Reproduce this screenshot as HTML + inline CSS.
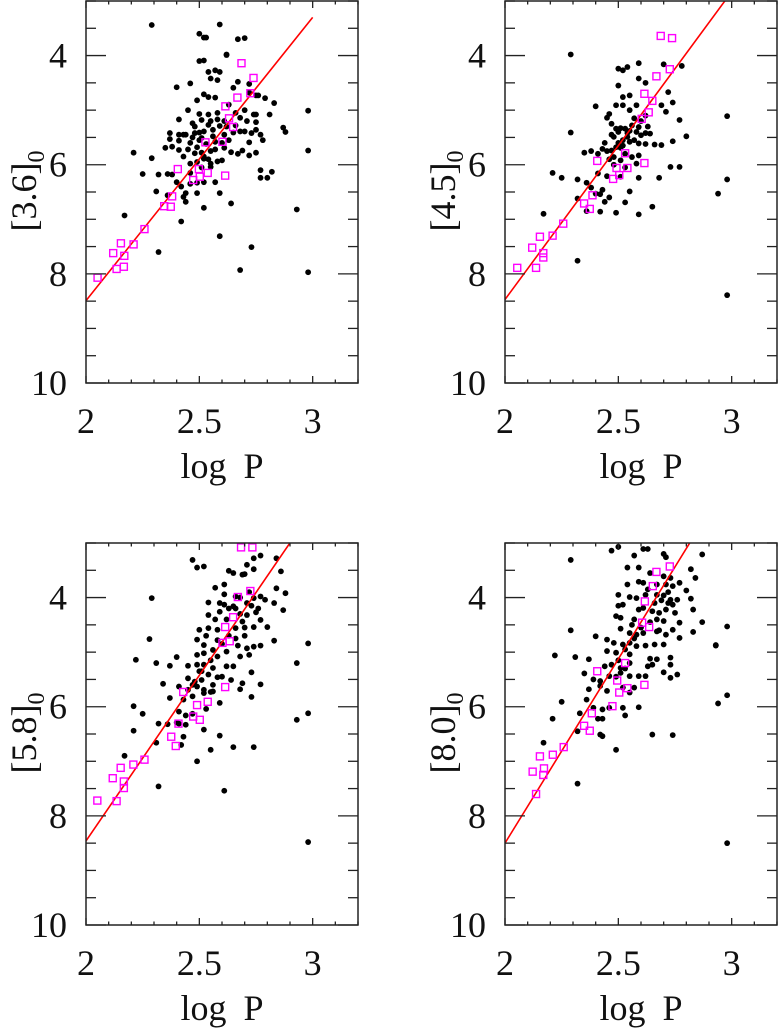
<!DOCTYPE html>
<html><head><meta charset="utf-8">
<style>
html,body{margin:0;padding:0;background:#fff;}
svg{display:block;}
text{font-family:"Liberation Serif","DejaVu Serif",serif;fill:#111;}
</style></head>
<body>
<svg id="fig" width="779" height="1035" viewBox="0 0 779 1035" xmlns="http://www.w3.org/2000/svg"></svg>
<script>
// ---- data ----
const dots36 = [[2.29,3.44],[2.59,3.43],[2.50,3.60],[2.52,3.67],[2.53,3.67],[2.67,3.70],[2.70,3.68],[2.50,4.10],[2.52,4.09],[2.62,3.99],[2.62,3.98],[2.54,4.30],[2.57,4.27],[2.59,4.30],[2.58,4.45],[2.55,4.42],[2.40,4.58],[2.46,4.51],[2.67,4.48],[2.65,4.59],[2.72,4.52],[2.72,4.68],[2.52,4.71],[2.54,4.76],[2.57,4.77],[2.49,4.82],[2.75,4.73],[2.76,4.73],[2.79,4.78],[2.83,4.87],[2.45,5.0],[2.50,5.07],[2.54,5.08],[2.58,5.17],[2.61,5.20],[2.66,5.05],[2.68,5.14],[2.41,5.17],[2.47,5.24],[2.51,5.18],[2.54,5.27],[2.74,5.08],[2.75,5.08],[2.81,5.08],[2.71,5.2],[2.75,5.22],[2.75,5.36],[2.37,5.42],[2.41,5.45],[2.43,5.45],[2.44,5.45],[2.48,5.42],[2.50,5.41],[2.52,5.39],[2.56,5.36],[2.59,5.29],[2.37,5.53],[2.41,5.56],[2.46,5.6],[2.51,5.51],[2.56,5.48],[2.61,5.45],[2.65,5.41],[2.68,5.39],[2.70,5.39],[2.73,5.42],[2.77,5.45],[2.78,5.55],[2.72,5.59],[2.35,5.69],[2.38,5.67],[2.41,5.73],[2.45,5.72],[2.48,5.79],[2.51,5.78],[2.55,5.75],[2.57,5.72],[2.61,5.69],[2.64,5.77],[2.67,5.8],[2.69,5.74],[2.72,5.83],[2.75,5.78],[2.21,5.78],[2.29,5.88],[2.46,5.98],[2.49,5.95],[2.52,5.89],[2.55,5.98],[2.58,5.94],[2.60,5.92],[2.55,6.04],[2.25,6.17],[2.32,6.18],[2.36,6.17],[2.38,6.18],[2.40,6.32],[2.42,6.4],[2.46,6.35],[2.49,6.33],[2.52,6.32],[2.57,6.32],[2.77,6.10],[2.77,6.24],[2.80,6.24],[2.82,6.13],[2.31,6.49],[2.36,6.56],[2.43,6.59],[2.44,6.52],[2.49,6.52],[2.59,6.52],[2.44,6.68],[2.52,6.79],[2.64,6.71],[2.17,6.93],[2.42,7.04],[2.59,7.31],[2.73,7.51],[2.32,7.6],[2.68,7.93],[2.98,7.97],[2.93,6.82],[2.98,5.74],[2.98,5.01],[2.87,5.32],[2.88,5.4],[2.50,5.55],[2.53,5.62],[2.49,5.68],[2.52,5.85],[2.54,5.90],[2.57,5.58],[2.60,5.60],[2.63,5.55],[2.47,5.50],[2.43,5.85],[2.46,6.15],[2.51,6.05],[2.58,5.05],[2.62,5.30],[2.55,5.20],[2.48,5.30],[2.63,4.90],[2.70,5.00],[2.66,5.28]];
const sq36 = [[2.051,8.07],[2.120,7.62],[2.135,7.91],[2.154,7.44],[2.167,7.87],[2.169,7.67],[2.210,7.46],[2.258,7.18],[2.345,6.76],[2.374,6.77],[2.380,6.58],[2.405,6.08],[2.473,6.28],[2.498,6.08],[2.502,6.22],[2.537,6.15],[2.527,5.59],[2.602,5.58],[2.614,6.20],[2.615,4.93],[2.631,5.15],[2.649,5.31],[2.668,4.77],[2.686,4.14],[2.725,4.69],[2.739,4.41]];
const dots45 = [[2.29,3.98],[2.50,4.24],[2.52,4.27],[2.54,4.21],[2.59,4.14],[2.70,4.16],[2.78,4.19],[2.59,4.42],[2.62,4.5],[2.72,4.67],[2.50,4.55],[2.52,4.76],[2.55,4.73],[2.58,4.91],[2.55,5.0],[2.40,4.93],[2.49,4.91],[2.52,4.91],[2.46,5.07],[2.45,5.14],[2.69,4.91],[2.74,4.86],[2.71,5.03],[2.77,5.18],[2.59,5.31],[2.49,5.34],[2.51,5.33],[2.53,5.34],[2.56,5.28],[2.58,5.40],[2.60,5.46],[2.62,5.42],[2.64,5.43],[2.48,5.49],[2.54,5.49],[2.57,5.55],[2.59,5.61],[2.62,5.62],[2.66,5.63],[2.69,5.64],[2.74,5.57],[2.80,5.48],[2.29,5.41],[2.35,5.78],[2.38,5.75],[2.41,5.8],[2.43,5.71],[2.45,5.75],[2.47,5.74],[2.49,5.68],[2.51,5.69],[2.48,5.86],[2.51,5.92],[2.56,5.86],[2.58,5.98],[2.59,5.83],[2.41,6.16],[2.45,6.21],[2.51,6.22],[2.59,6.24],[2.68,6.24],[2.73,6.04],[2.77,6.04],[2.21,6.15],[2.25,6.24],[2.32,6.27],[2.36,6.33],[2.38,6.42],[2.43,6.46],[2.40,6.53],[2.42,6.54],[2.46,6.6],[2.55,6.49],[2.44,6.68],[2.32,6.62],[2.36,6.85],[2.42,6.86],[2.49,6.88],[2.53,6.69],[2.59,6.91],[2.65,6.77],[2.17,6.9],[2.32,7.76],[2.98,5.11],[2.98,6.27],[2.94,6.53],[2.98,8.39],[2.47,5.45],[2.52,5.55],[2.50,5.60],[2.55,5.58],[2.53,5.80],[2.44,5.60],[2.57,5.15],[2.62,5.10],[2.50,5.40],[2.54,5.42],[2.52,5.65],[2.46,5.90],[2.48,6.00],[2.53,6.05],[2.55,5.38],[2.60,5.20],[2.63,5.30],[2.47,5.25]];
const sq45 = [[2.054,7.89],[2.137,7.89],[2.120,7.52],[2.154,7.32],[2.169,7.62],[2.169,7.70],[2.210,7.30],[2.257,7.08],[2.349,6.71],[2.386,6.56],[2.374,6.81],[2.407,5.93],[2.477,6.26],[2.492,6.06],[2.504,6.19],[2.540,6.06],[2.530,5.79],[2.615,5.97],[2.603,5.16],[2.634,5.04],[2.650,4.83],[2.615,4.70],[2.668,4.38],[2.727,4.25],[2.687,3.64],[2.737,3.68]];
const dots58 = [[2.47,3.31],[2.49,3.45],[2.52,3.43],[2.77,3.23],[2.74,3.28],[2.84,3.28],[2.71,3.40],[2.63,3.51],[2.65,3.55],[2.69,3.58],[2.70,3.57],[2.74,3.48],[2.86,3.52],[2.88,3.92],[2.87,4.23],[2.57,3.82],[2.61,3.76],[2.61,3.94],[2.66,3.98],[2.54,4.09],[2.59,4.1],[2.61,4.13],[2.65,4.16],[2.71,4.10],[2.74,4.01],[2.77,3.98],[2.79,4.04],[2.83,4.1],[2.84,3.83],[2.54,4.32],[2.59,4.26],[2.66,4.20],[2.71,4.32],[2.75,4.27],[2.77,4.41],[2.50,4.59],[2.54,4.56],[2.58,4.59],[2.66,4.56],[2.69,4.44],[2.74,4.54],[2.80,4.54],[2.83,4.79],[2.49,4.77],[2.52,4.87],[2.56,4.96],[2.62,4.99],[2.67,4.88],[2.71,4.93],[2.74,4.90],[2.77,4.88],[2.49,5.05],[2.52,5.02],[2.58,5.08],[2.62,5.26],[2.65,5.26],[2.68,5.08],[2.72,5.05],[2.22,5.14],[2.31,5.2],[2.37,5.25],[2.40,5.09],[2.45,5.25],[2.49,5.23],[2.52,5.23],[2.56,5.29],[2.45,5.48],[2.48,5.54],[2.51,5.51],[2.54,5.41],[2.58,5.46],[2.60,5.45],[2.64,5.51],[2.69,5.57],[2.73,5.37],[2.77,5.59],[2.34,5.58],[2.41,5.63],[2.45,5.69],[2.49,5.63],[2.52,5.69],[2.56,5.72],[2.68,5.68],[2.73,5.82],[2.37,5.84],[2.43,5.87],[2.47,5.81],[2.52,5.75],[2.55,5.73],[2.59,5.93],[2.21,5.99],[2.25,6.13],[2.41,6.09],[2.44,6.16],[2.47,6.13],[2.53,6.04],[2.32,6.31],[2.36,6.32],[2.40,6.29],[2.41,6.31],[2.44,6.33],[2.21,6.44],[2.31,6.66],[2.43,6.55],[2.52,6.42],[2.59,6.53],[2.42,6.70],[2.55,6.79],[2.65,6.74],[2.74,6.74],[2.49,7.0],[2.17,6.9],[2.32,7.46],[2.61,7.54],[2.29,4.01],[2.28,4.76],[2.98,4.84],[2.93,5.2],[2.98,6.12],[2.93,6.24],[2.98,8.48],[2.57,4.40],[2.63,4.70],[2.68,4.30],[2.60,4.85],[2.51,5.35],[2.55,5.15],[2.70,4.70],[2.63,4.20],[2.68,4.00],[2.72,3.90],[2.70,4.55],[2.66,4.75],[2.58,4.78],[2.53,4.70],[2.50,5.35],[2.47,5.60],[2.56,5.60],[2.62,4.40],[2.73,4.15],[2.76,4.20]];
const sq58 = [[2.050,7.72],[2.135,7.73],[2.118,7.31],[2.153,7.12],[2.167,7.37],[2.167,7.49],[2.209,7.06],[2.258,6.97],[2.376,6.55],[2.396,6.72],[2.408,6.31],[2.429,5.73],[2.473,6.18],[2.490,5.97],[2.502,6.24],[2.537,5.91],[2.614,5.64],[2.602,4.83],[2.634,4.80],[2.614,4.54],[2.649,4.36],[2.670,3.99],[2.725,3.88],[2.684,3.08],[2.734,3.08]];
const dots80 = [[2.47,3.14],[2.50,3.07],[2.61,3.11],[2.63,3.11],[2.29,3.31],[2.57,3.23],[2.70,3.20],[2.71,3.26],[2.87,3.21],[2.54,3.45],[2.59,3.45],[2.64,3.55],[2.70,3.61],[2.73,3.64],[2.82,3.48],[2.84,3.64],[2.54,3.76],[2.59,3.71],[2.61,3.73],[2.67,3.76],[2.71,3.76],[2.74,3.79],[2.77,3.73],[2.50,3.95],[2.55,3.99],[2.58,4.01],[2.62,3.95],[2.67,3.95],[2.70,3.96],[2.73,4.04],[2.76,4.04],[2.80,3.87],[2.82,4.02],[2.50,4.15],[2.52,4.13],[2.59,4.22],[2.61,4.19],[2.65,4.25],[2.68,4.28],[2.71,4.22],[2.74,4.13],[2.75,4.28],[2.83,4.22],[2.49,4.34],[2.51,4.37],[2.57,4.40],[2.67,4.40],[2.70,4.43],[2.77,4.46],[2.87,4.45],[2.83,4.63],[2.29,4.60],[2.40,4.71],[2.45,4.77],[2.51,4.57],[2.55,4.65],[2.58,4.68],[2.61,4.65],[2.67,4.62],[2.71,4.68],[2.74,4.59],[2.48,4.83],[2.52,4.86],[2.55,4.83],[2.58,4.89],[2.62,4.88],[2.66,4.86],[2.70,4.86],[2.77,4.74],[2.45,4.98],[2.49,5.01],[2.55,5.04],[2.64,5.12],[2.67,5.13],[2.73,5.10],[2.93,4.88],[2.22,5.06],[2.31,5.09],[2.37,5.13],[2.44,5.26],[2.47,5.23],[2.51,5.29],[2.55,5.20],[2.63,5.26],[2.65,5.23],[2.70,5.37],[2.73,5.23],[2.35,5.39],[2.39,5.50],[2.42,5.53],[2.46,5.44],[2.51,5.38],[2.55,5.44],[2.59,5.44],[2.62,5.44],[2.73,5.47],[2.76,5.41],[2.37,5.68],[2.42,5.62],[2.45,5.71],[2.52,5.65],[2.57,5.65],[2.55,5.74],[2.25,5.91],[2.36,5.87],[2.39,6.02],[2.43,6.05],[2.46,6.02],[2.52,6.02],[2.59,6.01],[2.21,6.22],[2.33,6.12],[2.41,6.22],[2.43,6.22],[2.53,6.16],[2.32,6.45],[2.42,6.51],[2.43,6.54],[2.65,6.51],[2.74,6.52],[2.17,6.66],[2.49,6.79],[2.32,7.41],[2.98,4.53],[2.93,4.87],[2.94,5.94],[2.98,5.79],[2.98,8.50],[2.69,4.05],[2.72,4.10],[2.66,4.10],[2.64,4.45],[2.60,4.55],[2.53,4.95],[2.50,5.15],[2.53,5.30],[2.49,5.45],[2.57,4.75],[2.68,4.60],[2.72,3.90],[2.63,3.85],[2.56,4.50]];
const sq80 = [[2.137,7.60],[2.122,7.19],[2.172,7.13],[2.169,7.25],[2.154,6.91],[2.211,6.88],[2.259,6.74],[2.349,6.35],[2.374,6.44],[2.383,6.12],[2.407,5.35],[2.474,5.99],[2.504,5.74],[2.495,5.52],[2.540,5.66],[2.530,5.20],[2.615,5.60],[2.605,4.46],[2.636,4.54],[2.617,4.07],[2.652,3.79],[2.668,3.53],[2.727,3.43]];
const fitIntercept = [8.49, 8.47, 8.46, 8.50];   // mag at logP = 2
const fitSlope = [-5.19, -5.64, -6.07, -6.75];
const bandLabels = ["3.6","4.5","5.8","8.0"];
const xTicks = [2, 2.5, 3];
const xTickLabels = ["2","2.5","3"];
const yTicks = [4, 6, 8, 10];
const yTickLabels = ["4","6","8","10"];

// ---- drawing ----
const NS = "http://www.w3.org/2000/svg";
const svg = document.getElementById('fig');
function mk(tag, attrs, parent){
  const e = document.createElementNS(NS, tag);
  for (const k in attrs) e.setAttribute(k, attrs[k]);
  (parent||svg).appendChild(e); return e;
}
const panels = [
  {x0:86, y0:1, dots:dots36, sq:sq36},
  {x0:505, y0:1, dots:dots45, sq:sq45},
  {x0:86, y0:543, dots:dots58, sq:sq58},
  {x0:505, y0:543, dots:dots80, sq:sq80}
];
const W = 272, H = 382, XMIN = 2, XMAX = 3.2, YMIN = 3, YMAX = 10;
panels.forEach((p, i) => {
  const sx = v => p.x0 + (v - XMIN) / (XMAX - XMIN) * W;
  const sy = v => p.y0 + (v - YMIN) / (YMAX - YMIN) * H;
  const g = mk('g', {});
  
  
  const cid = 'clip' + i;
  const cp = mk('clipPath', {id: cid}, g);
  mk('rect', {x: p.x0, y: p.y0, width: W, height: H}, cp);
  const dg = mk('g', {'clip-path': 'url(#' + cid + ')'}, g);
  p.dots.forEach(d => {
    const c = mk('circle', {cx: sx(d[0]), cy: sy(d[1]), r: 2.9, fill: '#000'}, dg);
    
    
  });
  const ln = mk('line', {x1: sx(2), y1: sy(fitIntercept[i]), x2: sx(3), y2: sy(fitIntercept[i] + fitSlope[i]), stroke: '#f00', 'stroke-width': 1.6}, dg);
  
  
  p.sq.forEach(d => {
    const r = mk('rect', {x: sx(d[0]) - 3.5, y: sy(d[1]) - 3.5, width: 7, height: 7, fill: 'none', stroke: '#f0f', 'stroke-width': 1.4}, dg);
    
    
  });
  const fr = mk('rect', {x: p.x0, y: p.y0, width: W, height: H, fill: 'none', stroke: '#222', 'stroke-width': 1.5}, g);
  
  
  for (let k = 0; k <= 12; k++) {
    const v = 2 + k * 0.1, X = sx(v), L = (k % 5 === 0) ? 7 : 3.5;
    mk('line', {x1: X, y1: p.y0 + H, x2: X, y2: p.y0 + H - L, stroke: '#222', 'stroke-width': 1.3}, g);
    mk('line', {x1: X, y1: p.y0, x2: X, y2: p.y0 + L, stroke: '#222', 'stroke-width': 1.3}, g);
  }
  for (let k = 0; k <= 14; k++) {
    const v = 3 + k * 0.5, Y = sy(v), L = (k % 4 === 2) ? 20 : 10;
    mk('line', {x1: p.x0, y1: Y, x2: p.x0 + L, y2: Y, stroke: '#222', 'stroke-width': 1.3}, g);
    mk('line', {x1: p.x0 + W, y1: Y, x2: p.x0 + W - L, y2: Y, stroke: '#222', 'stroke-width': 1.3}, g);
  }
  xTicks.forEach((v, j) => {
    const t = mk('text', {x: sx(v), y: p.y0 + 432, 'font-size': 36, 'text-anchor': 'middle'}, g);
    t.textContent = xTickLabels[j];
    
    
  });
  yTicks.forEach((v, j) => {
    const t = mk('text', {x: p.x0 - 19, y: sy(v) + 12, 'font-size': 36, 'text-anchor': 'end'}, g);
    t.textContent = yTickLabels[j];
    
    
  });
  const xt = mk('text', {x: p.x0 + 136, y: p.y0 + 477, 'font-size': 36, 'text-anchor': 'middle', 'word-spacing': 8}, g);
  xt.textContent = 'log P';
  
  
  const yt = mk('text', {x: 0, y: 0, 'font-size': 36, 'text-anchor': 'middle', transform: 'translate(' + (p.x0 - 50) + ',' + (p.y0 + 190) + ') rotate(-90)'}, g);
  
  
  const t1 = mk('tspan', {}, yt); t1.textContent = '[' + bandLabels[i] + ']';
  const t2 = mk('tspan', {'font-size': 24, dy: 8}, yt); t2.textContent = '0';
});
</script>
</body></html>
